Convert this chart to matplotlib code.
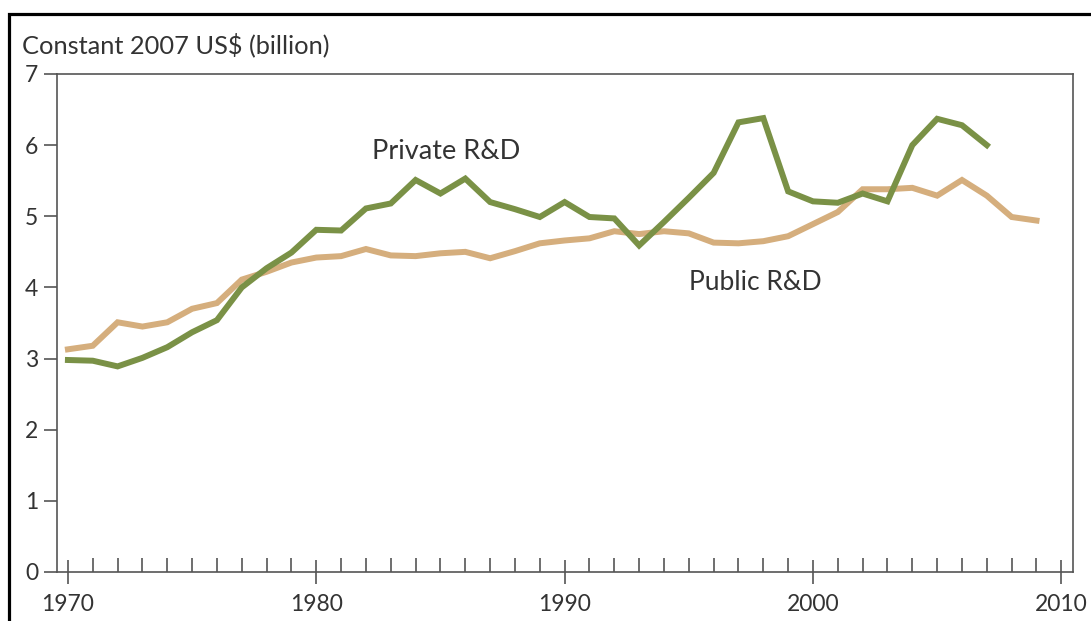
import matplotlib
matplotlib.use("Agg")
import matplotlib.pyplot as plt
from matplotlib.ticker import MultipleLocator
from matplotlib.patches import Rectangle

years_private = list(range(1970, 2008))
private_rd = [2.98, 2.97, 2.89, 3.01, 3.16, 3.37, 3.54, 4.00, 4.27, 4.49, 4.81, 4.80,
              5.11, 5.18, 5.51, 5.32, 5.53, 5.20, 5.10, 4.99, 5.20, 4.99, 4.97, 4.59,
              4.92, 5.26, 5.61, 6.32, 6.38, 5.35, 5.21, 5.19, 5.32, 5.21, 6.00, 6.37,
              6.28, 6.00]

years_public = list(range(1970, 2010))
public_rd = [3.13, 3.18, 3.51, 3.45, 3.51, 3.70, 3.78, 4.11, 4.22, 4.35, 4.42, 4.44,
             4.54, 4.45, 4.44, 4.48, 4.50, 4.41, 4.51, 4.62, 4.66, 4.69, 4.79, 4.75,
             4.79, 4.76, 4.63, 4.62, 4.65, 4.72, 4.89, 5.06, 5.38, 5.38, 5.40, 5.29,
             5.51, 5.29, 4.99, 4.94]

x_ticks = [1970, 1980, 1990, 2000, 2010]
y_ticks = [0, 1, 2, 3, 4, 5, 6, 7]
y_label = "Constant 2007 US$ (billion)"
label_private = "Private R&D"
label_public = "Public R&D"

GREEN = "#7a9146"
TAN = "#d5ae7d"
AXC = "#555555"
TXT = "#333333"

plt.rcParams['font.family'] = ['Lato', 'DejaVu Sans']

fig = plt.figure(figsize=(10.91, 6.21), dpi=100)
ax = fig.add_axes([57/1091, 49/621, (1073-57)/1091, (572-74)/621])

ax.plot(years_public, public_rd, color=TAN, lw=4.3, solid_joinstyle='miter', zorder=3)
ax.plot(years_private, private_rd, color=GREEN, lw=4.3, solid_joinstyle='miter', zorder=4)

ax.set_xlim(1969.56, 2010.47)
ax.set_ylim(0, 7)
ax.set_xticks(x_ticks)
ax.xaxis.set_minor_locator(MultipleLocator(1))
ax.set_yticks(y_ticks)

for s in ax.spines.values():
    s.set_color(AXC)
    s.set_linewidth(1.2)

ax.tick_params(axis='x', which='major', direction='inout', length=17, width=1.2,
               color=AXC, labelsize=16.5, labelcolor=TXT, pad=7)
ax.tick_params(axis='x', which='minor', direction='in', length=10, width=1.2, color=AXC)
ax.tick_params(axis='y', which='major', direction='out', length=9.5, width=1.2,
               color=AXC, labelsize=16.5, labelcolor=TXT, pad=4)

ax.text(1982.25, 5.91, label_private, fontsize=19.5, color=TXT, ha='left', va='center')
ax.text(1995.0, 4.07, label_public, fontsize=19, color=TXT, ha='left', va='center')

fig.text(22/1091, 1 - 45/621, y_label, fontsize=18.3, color=TXT, ha='left', va='center')

frame = Rectangle((9/1091, -0.1), 1.2, 1.1 - 13.5/621, transform=fig.transFigure,
                  fill=False, edgecolor='black', linewidth=2.3, clip_on=False)
fig.patches.append(frame)

fig.savefig("out.png", dpi=100)
